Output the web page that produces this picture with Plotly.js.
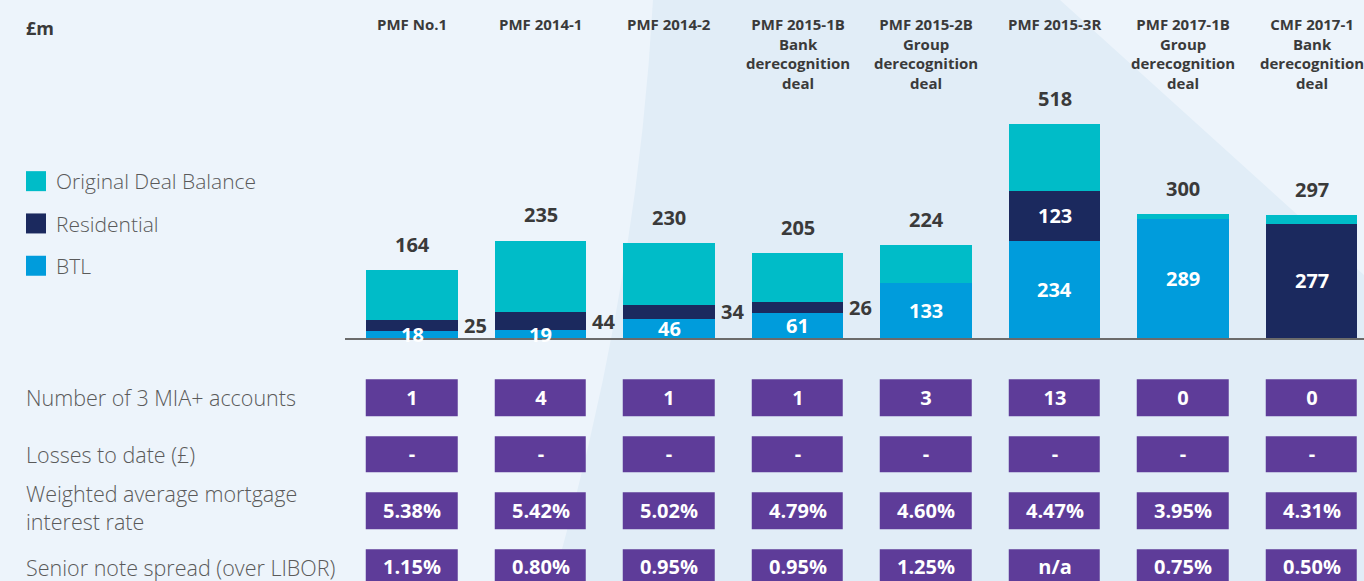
<!DOCTYPE html>
<html>
<head>
<meta charset="utf-8">
<script src="https://cdn.plot.ly/plotly-3.0.1.min.js"></script>
<style>html,body{margin:0;padding:0;background:#EDF4FB;}#chart{width:1364px;height:581px;}</style>
</head>
<body>
<div id="chart"></div>
<script>
// ---- Data ----
const categories = ['PMF No.1','PMF 2014-1','PMF 2014-2','PMF 2015-1B','PMF 2015-2B','PMF 2015-3R','PMF 2017-1B','CMF 2017-1'];
const headerLabels = ['PMF No.1','PMF 2014-1','PMF 2014-2',
  'PMF 2015-1B<br>Bank<br>derecognition<br>deal',
  'PMF 2015-2B<br>Group<br>derecognition<br>deal',
  'PMF 2015-3R',
  'PMF 2017-1B<br>Group<br>derecognition<br>deal',
  'CMF 2017-1<br>Bank<br>derecognition<br>deal'];
const originalBalance = [164, 235, 230, 205, 224, 518, 300, 297];
const btl = [18, 19, 46, 61, 133, 234, 289, 0];
const residential = [25, 44, 34, 26, 0, 123, 0, 277];
const residentialLabelPos = ['out','out','out','out','', 'in', '', 'in'];

const rowLabels = ['Number of 3 MIA+ accounts', 'Losses to date (£)', 'Weighted average mortgage<br>interest rate', 'Senior note spread (over LIBOR)'];
const miaAccounts = ['1','4','1','1','3','13','0','0'];
const lossesToDate = ['-','-','-','-','-','-','-','-'];
const mortgageRate = ['5.38%','5.42%','5.02%','4.79%','4.60%','4.47%','3.95%','4.31%'];
const seniorSpread = ['1.15%','0.80%','0.95%','0.95%','1.25%','n/a','0.75%','0.50%'];

// ---- Colours / fonts ----
const C_TEAL = '#00BCC8', C_NAVY = '#1B295E', C_BLUE = '#009CDC', C_PURPLE = '#5E3C99';
const FONT = 'Open Sans, Lato, sans-serif';
const W = 1364, H = 581;

const remaining = originalBalance.map((v, i) => v - btl[i] - residential[i]);

const traces = [
  {type:'bar', name:'BTL', x:categories, y:btl, marker:{color:C_BLUE}, legendgroup:'c', legendrank:3, hoverinfo:'skip'},
  {type:'bar', name:'Residential', x:categories, y:residential, marker:{color:C_NAVY}, legendgroup:'b', legendrank:2, hoverinfo:'skip'},
  {type:'bar', name:'Original Deal Balance', x:categories, y:remaining, marker:{color:C_TEAL}, legendgroup:'a', legendrank:1, hoverinfo:'skip'},
  {type:'heatmap', x:categories, y:rowLabels, xaxis:'x', yaxis:'y2',
   z: rowLabels.map(() => categories.map(() => 1)),
   text:[miaAccounts, lossesToDate, mortgageRate, seniorSpread],
   texttemplate:'%{text}', textfont:{family:FONT, size:20, color:'#ffffff', weight:700},
   colorscale:[[0,C_PURPLE],[1,C_PURPLE]], showscale:false, xgap:37, ygap:20,
   hoverinfo:'skip', showlegend:false}
];

const annotations = [];
categories.forEach((c, i) => {
  annotations.push({x:c, xref:'x', y:1, yref:'paper', yanchor:'top', yshift:-12, text:headerLabels[i],
    showarrow:false, align:'center', font:{family:FONT, size:15, color:'#3a3a3a', weight:700}});
  annotations.push({x:c, xref:'x', y:originalBalance[i], yref:'y', yanchor:'middle', yshift:26,
    text:String(originalBalance[i]), showarrow:false, font:{family:FONT, size:20, color:'#3a3a3a', weight:700}});
  if (btl[i] > 0) {
    annotations.push({x:c, xref:'x', y:btl[i]/2, yref:'y', yanchor:'middle', text:String(btl[i]),
      showarrow:false, font:{family:FONT, size:20, color:'#ffffff', weight:700}});
  }
  if (residentialLabelPos[i] === 'in') {
    annotations.push({x:c, xref:'x', y:btl[i] + residential[i]/2, yref:'y', yanchor:'middle', text:String(residential[i]),
      showarrow:false, font:{family:FONT, size:20, color:'#ffffff', weight:700}});
  } else if (residentialLabelPos[i] === 'out') {
    annotations.push({x:c, xref:'x', xshift:63, y:btl[i] + residential[i]/2, yref:'y', yanchor:'middle', text:String(residential[i]),
      showarrow:false, font:{family:FONT, size:20, color:'#3a3a3a', weight:700}});
  }
});
rowLabels.forEach((r, j) => {
  annotations.push({x:24/W, xref:'paper', xanchor:'left', y:r, yref:'y2', yanchor:'middle', yshift:(j===2?3:0),
    text:r, align:'left', showarrow:false, font:{family:FONT, size:21.5, color:'#5a5a5a', weight:300}});
});
annotations.push({x:24/W, xref:'paper', xanchor:'left', y:1-28/H, yref:'paper', yanchor:'middle', text:'£m',
  showarrow:false, font:{family:FONT, size:18, color:'#3a3a3a', weight:700}});

const f = (px) => px / W, g = (py) => 1 - py / H;
const bgPath = `M ${f(653)} ${g(0)} L ${f(1060)} ${g(0)} L ${f(1364)} ${g(275)} L ${f(1364)} ${g(581)} L ${f(553)} ${g(581)} Q ${f(637)} ${g(290)} ${f(653)} ${g(0)} Z`;

const pxPerUnit = 0.413;
const baseline = 338;
const layout = {
  width:W, height:H,
  margin:{l:0, r:0, t:0, b:0},
  paper_bgcolor:'#EDF4FB', plot_bgcolor:'rgba(0,0,0,0)',
  barmode:'stack', bargap:0.29,
  showlegend:true,
  legend:{x:16/W, xanchor:'left', y:g(161), yanchor:'top', traceorder:'grouped', tracegroupgap:12,
    font:{family:FONT, size:21, color:'#5a5a5a', weight:300}, bgcolor:'rgba(0,0,0,0)'},
  xaxis:{type:'category', domain:[345/W, 1], range:[-(412-345)/128.5, -(412-345)/128.5 + (W-345)/128.5],
    showticklabels:false, ticks:'', showgrid:false, zeroline:false, showline:true, linecolor:'#6b6b6b', linewidth:2, anchor:'y', fixedrange:true},
  yaxis:{domain:[1 - baseline/H, 1], range:[0, baseline/pxPerUnit], visible:false, showgrid:false, zeroline:false, fixedrange:true},
  yaxis2:{type:'category', domain:[0, 1], range:[(H-397.5)/56.5, -397.5/56.5], visible:false, showgrid:false, zeroline:false, anchor:'x', fixedrange:true},
  shapes:[{type:'path', xref:'paper', yref:'paper', path:bgPath, fillcolor:'#E1EDF7', line:{width:0}, layer:'below'}],
  annotations:annotations
};

Plotly.newPlot('chart', traces, layout, {displayModeBar:false, staticPlot:true}).then(() => {
  document.querySelectorAll('.legend .legendpoints path').forEach(p => p.setAttribute('d', 'M10,10H-10V-10H10Z'));
});
</script>
</body>
</html>
